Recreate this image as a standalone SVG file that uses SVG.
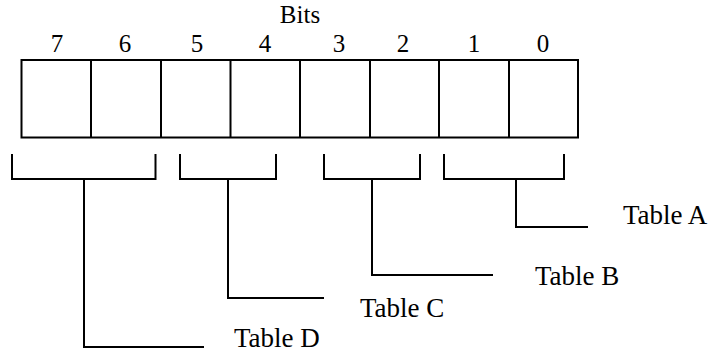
<svg xmlns="http://www.w3.org/2000/svg" width="710" height="353" viewBox="0 0 710 353">
  <style>
    .ln { fill: none; stroke: #000; stroke-width: 2; }
    text { font-family: "Liberation Serif", "DejaVu Serif", serif; font-size: 27px; fill: #000; }
    .mid { text-anchor: middle; }
    .bit { font-size: 25px; }
  </style>
  <rect width="710" height="353" fill="#fff"/>

  <g id="register">
    <text class="mid bit" x="300" y="23">Bits</text>
    <text class="mid bit" x="57" y="52">7</text>
    <text class="mid bit" x="125" y="52">6</text>
    <text class="mid bit" x="197" y="52">5</text>
    <text class="mid bit" x="265" y="52">4</text>
    <text class="mid bit" x="339" y="52">3</text>
    <text class="mid bit" x="403" y="52">2</text>
    <text class="mid bit" x="474" y="52">1</text>
    <text class="mid bit" x="543" y="52">0</text>
    <rect class="ln" x="21.5" y="60" width="556.5" height="77.5"/>
    <path class="ln" d="M91 60V137.5M161 60V137.5M230.5 60V137.5M300 60V137.5M370 60V137.5M439 60V137.5M509 60V137.5"/>
  </g>

  <g id="connectors">
    <path class="ln" d="M12 154V179H155.5V154M84 179V347H204"/>
    <path class="ln" d="M180 154V179H276V154M228 179V298H324"/>
    <path class="ln" d="M324 154V179H420V154M372 179V275H493"/>
    <path class="ln" d="M444 154V179H564V154M516 179V227H588"/>
  </g>

  <g id="table-a"><text x="623" y="224">Table A</text></g>
  <g id="table-b"><text x="535" y="285">Table B</text></g>
  <g id="table-c"><text x="360" y="317">Table C</text></g>
  <g id="table-d"><text x="234" y="347">Table D</text></g>
</svg>
